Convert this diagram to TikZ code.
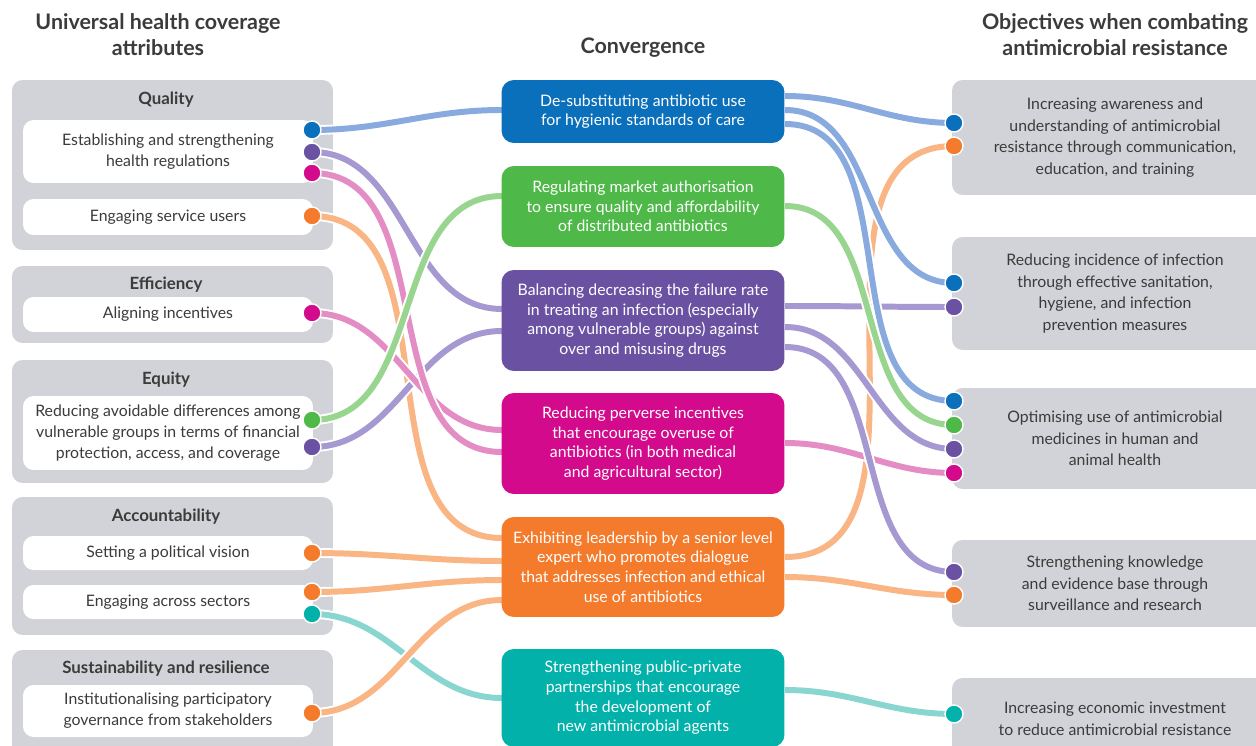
\documentclass[tikz,border=0pt]{standalone}
\usepackage{fontspec}
\setmainfont{Lato}
\usepackage{xcolor}
\usepackage{tikz}

\definecolor{boxgray}{HTML}{D2D3D8}
\definecolor{txtgray}{HTML}{3B3B3B}
\definecolor{dblue}{HTML}{0B70BC}
\definecolor{dgreen}{HTML}{4EB848}
\definecolor{dpurple}{HTML}{6A51A2}
\definecolor{dmag}{HTML}{D30A8C}
\definecolor{dorange}{HTML}{F37B2B}
\definecolor{dteal}{HTML}{03B1AB}
\definecolor{lblue}{HTML}{88AADF}
\definecolor{lgreen}{HTML}{98D58F}
\definecolor{lpurple}{HTML}{A698D0}
\definecolor{lmag}{HTML}{E38DC4}
\definecolor{lorange}{HTML}{F9B583}
\definecolor{lteal}{HTML}{89D6D0}

\pgfdeclarelayer{back}
\pgfdeclarelayer{wires}
\pgfsetlayers{back,wires,main}

\newcommand\titlefont{\fontsize{12.2}{14.8}\selectfont\bfseries}
\newcommand\headfont{\fontsize{9.6}{10}\selectfont\bfseries}
\newcommand\leftfont{\fontsize{9}{11.9}\selectfont}
\newcommand\midfont{\fontsize{9}{11.2}\selectfont}
\newcommand\rightfont{\fontsize{9}{12.3}\selectfont}

\begin{document}
\begin{tikzpicture}[x=0.02cm,y=-0.02cm]
    \tikzstyle{group} = [rectangle,fill=boxgray,rounded corners=6pt,minimum width=6.42cm,inner sep=0pt]
    \tikzstyle{item} = [rectangle,fill=white,rounded corners=6pt,minimum width=5.8cm,inner sep=0pt,align=center,text=txtgray,font=\leftfont]
    \tikzstyle{head} = [text=txtgray,font=\headfont]
    \tikzstyle{conv} = [rectangle,rounded corners=7pt,minimum width=5.66cm,inner sep=0pt,align=center,text=white,font=\midfont]
    \tikzstyle{goal} = [rectangle,fill=boxgray,rounded corners=6pt,minimum width=6.52cm,inner sep=0pt,align=center,text=txtgray,font=\rightfont]
    \tikzstyle{dot} = [circle,draw=white,line width=0.8pt,minimum size=0.36cm,inner sep=0pt]
    \tikzstyle{wire} = [line width=3.4pt,preaction={draw=white,line width=5.6pt}]
    \useasboundingbox (0,0) rectangle (1256,746);

    \node[font=\titlefont,align=center,text=txtgray] (tL) at (158,35) {Universal health coverage\\attributes};
    \node[font=\titlefont,text=txtgray] (tM) at (643,48) {Convergence};
    \node[font=\titlefont,align=center,text=txtgray] (tR) at (1115,35) {Objectives when combating\\antimicrobial resistance};

    % universal health coverage attributes
    \begin{pgfonlayer}{back}
      \foreach \n/\y/\h in {gQ/165/3.4, gF/304.5/1.54, gE/421.5/2.46, gA/566/2.76, gS/710/2.4}
        \node[group,minimum height=\h cm] (\n) at (172.5,\y) {};
    \end{pgfonlayer}
    \node[head] (hQ) at (166,100) {Quality};
    \node[head] (hF) at (166,285) {Efficiency};
    \node[head] (hE) at (166,380) {Equity};
    \node[head] (hA) at (166,517) {Accountability};
    \node[head] (hS) at (166,669) {Sustainability and resilience};
    \node[item,minimum height=1.26cm] (iQ1) at (168,151.5) {Establishing and strengthening\\health regulations};
    \node[item,minimum height=0.72cm] (iQ2) at (168,217) {Engaging service users};
    \node[item,minimum height=0.7cm] (iF) at (168,314.5) {Aligning incentives};
    \node[item,minimum height=1.48cm] (iE) at (168,433) {Reducing avoidable differences among\\vulnerable groups in terms of financial\\protection, access, and coverage};
    \node[item,minimum height=0.68cm] (iA1) at (168,553) {Setting a political vision};
    \node[item,minimum height=0.68cm] (iA2) at (168,602) {Engaging across sectors};
    \node[item,minimum height=1.04cm] (iS) at (168,711) {Institutionalising participatory\\governance from stakeholders};
    \foreach \n/\y/\c in {qb/130/dblue, qp/152/dpurple, qm/173/dmag, qo/216/dorange, fm/313/dmag,
                          eg/420/dgreen, ep/447/dpurple, av/553/dorange, ao/592/dorange, at/614/dteal, so/713/dorange}
      \node[dot,fill=\c] (\n) at (312,\y) {};

    % convergence
    \node[conv,fill=dblue,minimum height=1.26cm] (cb) at (643,111.5) {De-substituting antibiotic use\\for hygienic standards of care};
    \node[conv,fill=dgreen,minimum height=1.62cm] (cg) at (643,206.5) {Regulating market authorisation\\to ensure quality and affordability\\of distributed antibiotics};
    \node[conv,fill=dpurple,minimum height=2.02cm] (cp) at (643,320.5) {Balancing decreasing the failure rate\\in treating an infection (especially\\among vulnerable groups) against\\over and misusing drugs};
    \node[conv,fill=dmag,minimum height=2.02cm] (cm) at (643,443.5) {Reducing perverse incentives\\that encourage overuse of\\antibiotics (in both medical\\and agricultural sector)};
    \node[conv,fill=dorange,minimum height=2cm] (co) at (643,567) {Exhibiting leadership by a senior level\\expert who promotes dialogue\\that addresses infection and ethical\\use of antibiotics};
    \node[conv,fill=dteal,minimum height=1.96cm] (ct) at (643,698) {Strengthening public-private\\partnerships that encourage\\the development of\\new antimicrobial agents};
    \foreach \n/\y in {cbw/110, cgw/196, cpw1/309, cpw2/331, cmw1/430, cmw2/452, cow1/538, cow2/561, cow3/580, cow4/600, ctw/698}
      \coordinate (\n) at (502,\y);
    \foreach \n/\y in {cbe1/96, cbe2/110, cbe3/124, cge/206, cpe1/306, cpe2/327, cpe3/347, cme/443, coe1/557, coe2/577, cte/690}
      \coordinate (\n) at (785,\y);

    % objectives
    \node[goal,minimum height=2.3cm] (o1) at (1115,137.5) {Increasing awareness and\\understanding of antimicrobial\\resistance through communication,\\education, and training};
    \node[goal,minimum height=2.26cm] (o2) at (1115,293.5) {Reducing incidence of infection\\through effective sanitation,\\hygiene, and infection\\prevention measures};
    \node[goal,minimum height=2.02cm] (o3) at (1115,438.5) {Optimising use of antimicrobial\\medicines in human and\\animal health};
    \node[goal,minimum height=1.74cm] (o4) at (1115,583.5) {Strengthening knowledge\\and evidence base through\\surveillance and research};
    \node[goal,minimum height=1.64cm] (o5) at (1115,719) {Increasing economic investment\\to reduce antimicrobial resistance};
    \foreach \n/\y/\c in {r1b/123/dblue, r1o/146/dorange, r2b/283/dblue, r2p/307/dpurple, r3b/401/dblue, r3g/425/dgreen,
                          r3p/449/dpurple, r3m/473/dmag, r4p/572/dpurple, r4o/595/dorange, r5t/714/dteal}
      \node[dot,fill=\c] (\n) at (954,\y) {};

    \begin{pgfonlayer}{wires}
      \foreach \a/\b/\c in {at/ctw/lteal, qo/cow1/lorange, av/cow2/lorange, ao/cow3/lorange, so/cow4/lorange,
                            qp/cpw1/lpurple, ep/cpw2/lpurple, fm/cmw1/lmag, qm/cmw2/lmag, eg/cgw/lgreen, qb/cbw/lblue}
        \draw[wire,\c] (\a.center) to[out=0,in=180] (\b);
      \foreach \a/\b/\c in {coe1/r1o/lorange, coe2/r4o/lorange, cme/r3m/lmag, cpe1/r2p/lpurple, cpe2/r3p/lpurple,
                            cpe3/r4p/lpurple, cge/r3g/lgreen, cbe1/r1b/lblue, cbe2/r2b/lblue, cbe3/r3b/lblue, cte/r5t/lteal}
        \draw[wire,\c] (\a) to[out=0,in=180] (\b.center);
    \end{pgfonlayer}
\end{tikzpicture}
\end{document}
